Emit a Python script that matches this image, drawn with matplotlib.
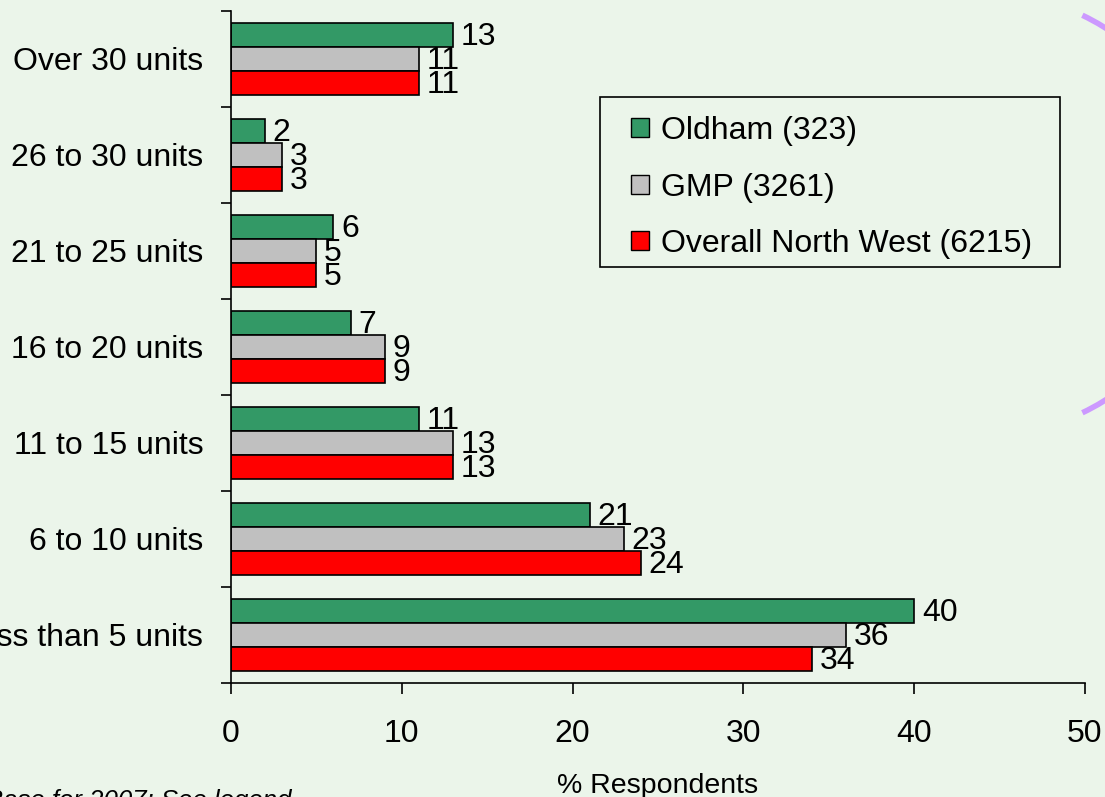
"""
Survey chart: number of units per respondent, Oldham vs GMP vs North West.
Horizontal grouped bars with value labels.
"""

import matplotlib
matplotlib.use("Agg")
import matplotlib.pyplot as plt
from matplotlib.patches import Arc, Patch, Rectangle
import numpy as np

# ---------------------------------------------------------------------------
# Data (bottom to top)
# ---------------------------------------------------------------------------
CATEGORIES = [
    "Less than 5 units",
    "6 to 10 units",
    "11 to 15 units",
    "16 to 20 units",
    "21 to 25 units",
    "26 to 30 units",
    "Over 30 units",
]
OLDHAM = [40, 21, 11, 7, 6, 2, 13]
GMP = [36, 23, 13, 9, 5, 3, 11]
NORTH_WEST = [34, 24, 13, 9, 5, 3, 11]

SERIES_LABELS = ["Oldham (323)", "GMP (3261)", "Overall North West (6215)"]
X_TICKS = [0, 10, 20, 30, 40, 50]

# ---------------------------------------------------------------------------
# Style
# ---------------------------------------------------------------------------
BG = "#EBF5EA"
COLORS = ["#339966", "#C0C0C0", "#FF0000"]
FONT = "Liberation Sans"
FS = 23

plt.rcParams["font.family"] = [FONT, "DejaVu Sans"]

fig = plt.figure(figsize=(11.05, 7.97), dpi=100, facecolor=BG)
ax = fig.add_axes([231 / 1105, 1 - 683 / 797, (1085 - 231) / 1105, 672 / 797])
ax.set_facecolor(BG)

y = np.arange(len(CATEGORIES))
h = 0.25
offsets = [h, 0, -h]
for vals, off, col in zip([OLDHAM, GMP, NORTH_WEST], offsets, COLORS):
    bars = ax.barh(y + off, vals, height=h, color=col, edgecolor="black",
                   linewidth=1.2)
    for b, v in zip(bars, vals):
        ax.annotate(str(v), (b.get_width(), b.get_y() + b.get_height() / 2),
                    xytext=(5.5, -1.5), textcoords="offset points",
                    ha="left", va="center", fontsize=FS)

ax.set_xlim(0, 50)
ax.set_ylim(-0.5, len(CATEGORIES) - 0.5)
ax.set_xticks(X_TICKS)
ax.set_xticklabels([str(t) for t in X_TICKS], fontsize=FS)
ax.tick_params(axis="x", direction="out", length=8, width=1.2, pad=18)

# category boundaries as major ticks, labels on minor ticks at centres
ax.set_yticks(np.arange(-0.5, len(CATEGORIES)), labels=[""] * (len(CATEGORIES) + 1))
ax.set_yticks(y, labels=CATEGORIES, minor=True)
ax.tick_params(axis="y", which="major", direction="out", length=7.5, width=1.2)
ax.tick_params(axis="y", which="minor", length=0, pad=20, labelsize=FS)

for side in ["top", "right"]:
    ax.spines[side].set_visible(False)
for side in ["left", "bottom"]:
    ax.spines[side].set_linewidth(1.2)

ax.set_xlabel("% Respondents", fontsize=20.5, labelpad=17)

# overlay in pixel coordinates for legend frame and decorations
over = fig.add_axes([0, 0, 1, 1], facecolor="none")
over.set_xlim(0, 1105)
over.set_ylim(797, 0)
over.axis("off")

over.add_patch(Rectangle((600, 97), 460, 170, facecolor=BG, edgecolor="black",
                         linewidth=1.2, zorder=1))

handles = [Patch(facecolor=c, edgecolor="black", linewidth=1.0) for c in COLORS]
leg = fig.legend(handles, SERIES_LABELS, loc="upper left",
                 bbox_to_anchor=(631 / 1105, 1 - 116 / 797), borderaxespad=0,
                 fontsize=FS, frameon=False, borderpad=0,
                 handlelength=0.55, handleheight=0.55, handletextpad=0.4,
                 labelspacing=0.83)
leg.set_zorder(5)

# footnote, clipped at the left edge
fig.text(291 / 1105, 1 - 789 / 797, "Base for 2007: See legend",
         ha="right", va="top", fontsize=18.5, style="italic")

# decorative purple arcs at the right edge
for t1, t2 in [(-64.6, -40), (40, 64.6)]:
    over.add_patch(Arc((988, 214), 440, 440, theta1=t1, theta2=t2,
                       color="#CC99FF", linewidth=4))

fig.savefig("out.png", dpi=100, facecolor=BG)
